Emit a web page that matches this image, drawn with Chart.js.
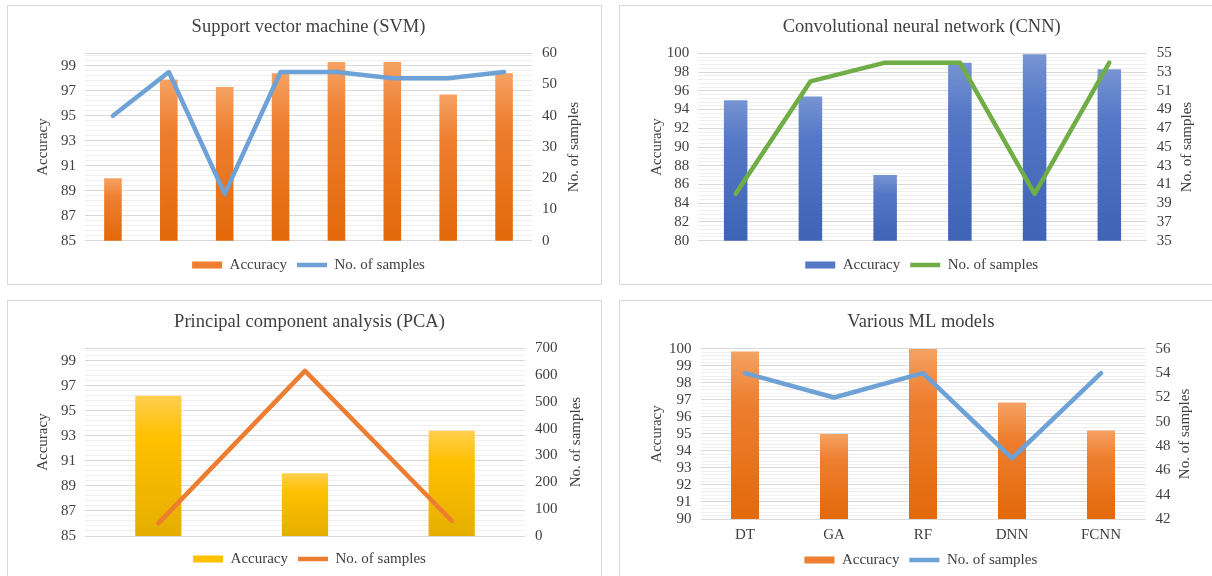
<!DOCTYPE html>
<html>
<head>
<meta charset="utf-8">
<script src="https://cdn.jsdelivr.net/npm/chart.js@4.4.1/dist/chart.umd.min.js"></script>
<style>
  html, body { margin: 0; padding: 0; background: #fff; overflow: hidden; }
  body { width: 1212px; height: 576px; position: relative; }
  .panel { position: absolute; border: 1px solid #d9d9d9; box-sizing: border-box; }
  canvas { position: absolute; }
</style>
</head>
<body>
<div class="panel" style="left:7px;top:5px;width:595px;height:280px"></div>
<canvas id="svmChart" width="595" height="280" style="left:7px;top:5px"></canvas>
<div class="panel" style="left:619px;top:5px;width:600px;height:280px"></div>
<canvas id="cnnChart" width="600" height="280" style="left:619px;top:5px"></canvas>
<div class="panel" style="left:7px;top:300px;width:595px;height:290px"></div>
<canvas id="pcaChart" width="595" height="290" style="left:7px;top:300px"></canvas>
<div class="panel" style="left:619px;top:300px;width:600px;height:290px"></div>
<canvas id="mlChart" width="600" height="290" style="left:619px;top:300px"></canvas>
<script>
// values
const svmLabels = ['1', '2', '3', '4', '5', '6', '7', '8'];
const svmAccuracy = [90.0, 97.9, 97.3, 98.4, 99.3, 99.3, 96.7, 98.4];
const svmSamples = [40, 54, 15, 54, 54, 52, 52, 54];
const svmAccTicks = [85, 87, 89, 91, 93, 95, 97, 99];

const cnnLabels = ['1', '2', '3', '4', '5', '6'];
const cnnAccuracy = [95.0, 95.4, 87.0, 99.0, 99.9, 98.3];
const cnnSamples = [40, 52, 54, 54, 40, 54];
const cnnAccTicks = [80, 82, 84, 86, 88, 90, 92, 94, 96, 98, 100];

const pcaLabels = ['1', '2', '3'];
const pcaAccuracy = [96.2, 90.0, 93.4];
const pcaSamples = [47, 615, 57];
const pcaAccTicks = [85, 87, 89, 91, 93, 95, 97, 99];

const mlLabels = ['DT', 'GA', 'RF', 'DNN', 'FCNN'];
const mlAccuracy = [99.85, 95.0, 100.0, 96.85, 95.2];
const mlSamples = [54, 52, 54, 47, 54];
const mlAccTicks = [90, 91, 92, 93, 94, 95, 96, 97, 98, 99, 100];

const FONT = "'Liberation Serif', 'Times New Roman', serif";
const TEXT = '#404040';
const BAR_PCT = 0.315;

const ORANGE = ['#f5a263', '#ee7f30', '#e3690a'];
const BLUE = ['#7794d2', '#5477c6', '#3f63b5'];
const GOLD = ['#ffcf4f', '#ffc000', '#e5ae00'];

// each bar gets its own light-to-dark gradient
function barFill(colors) {
  return function(c) {
    const chart = c.chart, area = chart.chartArea;
    if (!area || c.type !== 'data') return colors[1];
    const top = chart.scales.y.getPixelForValue(c.parsed.y);
    const g = chart.ctx.createLinearGradient(0, top, 0, area.bottom);
    g.addColorStop(0, colors[0]);
    g.addColorStop(0.3, colors[1]);
    g.addColorStop(1, colors[2]);
    return g;
  };
}

// major ticks plus faint minor lines in between
function leftTicks(min, max, majors, sub) {
  const step = (majors[1] - majors[0]) / sub;
  const out = [];
  for (let i = 0; min + i * step < max - 1e-6; i++) {
    out.push({value: Math.round((min + i * step) * 1000) / 1000});
  }
  out.push({value: max});
  return out;
}

// right axis title reads bottom-to-top like Excel, chart.js would turn it the other way
const rightTitle = {
  id: 'rightTitle',
  afterDraw(chart) {
    const s = chart.scales.y1, ctx = chart.ctx, a = chart.chartArea;
    ctx.save();
    ctx.translate(s.right - 9, (a.top + a.bottom) / 2);
    ctx.rotate(-Math.PI / 2);
    ctx.font = '15px ' + FONT;
    ctx.fillStyle = TEXT;
    ctx.textAlign = 'center';
    ctx.textBaseline = 'middle';
    ctx.fillText('No. of samples', 0, 0);
    ctx.restore();
  }
};

function makeChart(id, title, labels, acc, samples, o) {
  const f15 = {family: FONT, size: 15};
  return new Chart(id, {
    type: 'bar',
    plugins: [rightTitle],
    data: {
      labels: labels,
      datasets: [{
        label: 'Accuracy', data: acc, yAxisID: 'y', order: 1,
        backgroundColor: barFill(o.bar), borderWidth: 0,
        barPercentage: BAR_PCT, categoryPercentage: 1, pointStyle: 'rect'
      }, {
        type: 'line', label: 'No. of samples', data: samples, yAxisID: 'y1', order: 0,
        borderColor: o.line, backgroundColor: o.line, borderWidth: 4.5, pointRadius: 0,
        tension: 0, borderJoinStyle: 'round', borderCapStyle: 'round', pointStyle: 'line'
      }]
    },
    options: {
      responsive: false,
      animation: false,
      layout: {padding: {left: o.lp, right: o.rp, top: 0, bottom: o.pb}},
      plugins: {
        title: {
          display: true, text: title, color: TEXT,
          font: {family: FONT, size: 18.5, weight: 'normal'},
          padding: {top: o.tt, bottom: o.tb}
        },
        legend: {
          position: 'bottom',
          labels: {
            usePointStyle: true, pointStyleWidth: 30, boxHeight: 7, padding: 10,
            color: TEXT, font: f15,
            sort: (a, b) => a.datasetIndex - b.datasetIndex,
            generateLabels: chart => Chart.defaults.plugins.legend.labels.generateLabels(chart).map(item => {
              if (item.datasetIndex === 0) { item.fillStyle = o.bar[1]; item.strokeStyle = o.bar[1]; item.lineWidth = 0; }
              return item;
            })
          }
        },
        tooltip: {enabled: false}
      },
      scales: {
        x: {
          grid: {display: false, drawTicks: false}, border: {display: false},
          ticks: {display: o.showX, color: TEXT, font: f15, padding: 7, maxRotation: 0, autoSkip: false},
          afterFit: s => { s.height = o.xh; }
        },
        y: {
          position: 'left', min: o.yMin, max: o.yMax, border: {display: false},
          afterBuildTicks: s => { s.ticks = leftTicks(o.yMin, o.yMax, o.yTicks, 5); },
          ticks: {autoSkip: false, padding: 9, color: TEXT, font: f15,
            callback: v => o.yTicks.includes(v) ? String(v) : ''},
          grid: {drawTicks: false,
            color: c => (o.yTicks.includes(c.tick.value) || c.tick.value === o.yMax) ? '#d9d9d9' : '#efefef'},
          title: {display: true, text: 'Accuracy', color: TEXT, font: f15, padding: 0},
          afterFit: s => { s.width = o.lw; }
        },
        y1: {
          position: 'right', min: o.rMin, max: o.rMax, border: {display: false},
          grid: {display: false, drawTicks: false},
          ticks: {stepSize: o.rStep, autoSkip: false, padding: 10, color: TEXT, font: f15},
          afterFit: s => { s.width = o.rw; }
        }
      }
    }
  });
}

makeChart('svmChart', 'Support vector machine (SVM)', svmLabels, svmAccuracy, svmSamples, {
  bar: ORANGE, line: '#6ea1d6', yMin: 85, yMax: 100, yTicks: svmAccTicks, rMin: 0, rMax: 60, rStep: 10,
  lp: 27, rp: 19, lw: 51, rw: 51, tt: 11.2, tb: 14.9, pb: 2.5, xh: 6.8, showX: false
});

makeChart('cnnChart', 'Convolutional neural network (CNN)', cnnLabels, cnnAccuracy, cnnSamples, {
  bar: BLUE, line: '#70ad47', yMin: 80, yMax: 100, yTicks: cnnAccTicks, rMin: 35, rMax: 55, rStep: 2,
  lp: 28.7, rp: 23.3, lw: 50.6, rw: 49, tt: 11.2, tb: 14.9, pb: 2.5, xh: 6.8, showX: false
});

makeChart('pcaChart', 'Principal component analysis (PCA)', pcaLabels, pcaAccuracy, pcaSamples, {
  bar: GOLD, line: '#ed7d31', yMin: 85, yMax: 100, yTicks: pcaAccTicks, rMin: 0, rMax: 700, rStep: 100,
  lp: 27, rp: 17, lw: 51, rw: 60, tt: 11.2, tb: 14.7, pb: 13.5, xh: 5.5, showX: false
});

makeChart('mlChart', 'Various ML models', mlLabels, mlAccuracy, mlSamples, {
  bar: ORANGE, line: '#6ea1d6', yMin: 90, yMax: 100, yTicks: mlAccTicks, rMin: 42, rMax: 56, rStep: 2,
  lp: 28.7, rp: 25, lw: 52.8, rw: 48.5, tt: 11.2, tb: 15.5, pb: 12.5, xh: 23.5, showX: true
});
</script>
</body>
</html>
